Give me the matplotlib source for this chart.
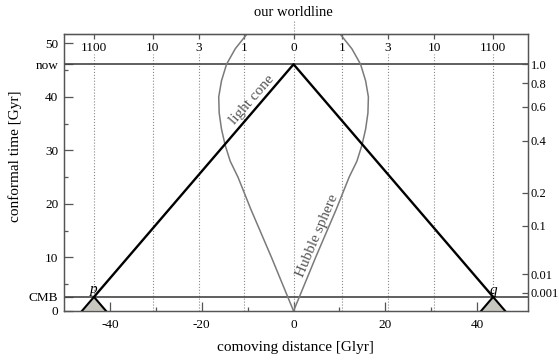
import numpy as np
import matplotlib.pyplot as plt

plt.rcParams['font.family'] = ['Liberation Serif', 'DejaVu Serif']
plt.rcParams['axes.unicode_minus'] = False

# conformal time of "now" and of the CMB [Gyr]
eta_now = 46.1
eta_cmb = 2.63

x_major = [-40, -20, 0, 20, 40]
x_minor = [-30, -10, 10, 30]
y_major = [0, 10, 20, 30, 40, 50]
y_minor = [5, 15, 25, 35, 45]

# redshift marks along the top
z_labels = ['1100', '10', '3', '1', '0', '1', '3', '10', '1100']
z_dist = [-43.4, -30.7, -20.6, -10.7, 0, 10.6, 20.5, 30.6, 43.4]

# scale factor on the right axis
a_labels = ['1.0', '0.8', '0.6', '0.4', '0.2', '0.1', '0.01', '0.001']
a_eta = [46.1, 42.6, 38.2, 31.8, 22.1, 15.9, 6.9, 3.4]

# Hubble sphere (right branch, mirrored for left)
hub_eta = [0, 2.5, 5, 7.5, 10, 13, 16, 19, 22, 25, 28, 31, 34, 37, 40, 43, 46.1, 49, 51.7]
hub_x = [0, 1.2, 2.4, 3.6, 4.8, 6.3, 7.8, 9.3, 10.7, 12.1, 13.8, 14.9, 15.7, 16.2, 16.3, 15.7, 14.6, 12.7, 10.2]

spine_c = '#555555'

fig = plt.figure(figsize=(5.59, 3.62), dpi=100)
ax = fig.add_axes([0.1145, 0.1409, 0.8295, 0.7643])
ax.set_xlim(-50, 51)
ax.set_ylim(0, 51.7)

for s in ax.spines.values():
    s.set_color(spine_c)
    s.set_linewidth(0.9)

# dotted redshift lines
ax.vlines(z_dist, 0, 48.0, colors='#8a8a8a', linestyles=':', lw=0.8)
ax.plot([0, 0], [51.7, 54.3], color='#8a8a8a', ls=':', lw=0.8, clip_on=False)
for z, lab in zip(z_dist, z_labels):
    ax.text(z, 49.2, lab, ha='center', va='center', fontsize=9.5)
ax.text(0, 55.8, 'our worldline', ha='center', va='center', fontsize=10.5)

# now / CMB
ax.axhline(eta_now, color='#444444', lw=1.2)
ax.axhline(eta_cmb, color='#444444', lw=1.2)

# Hubble sphere
hx = np.array(hub_x)
ax.plot(hx, hub_eta, color='#7a7a7a', lw=1.1)
ax.plot(-hx, hub_eta, color='#7a7a7a', lw=1.1)

# past light cone
xc = eta_now - eta_cmb
ax.plot([-xc, 0, xc], [eta_cmb, eta_now, eta_cmb], color='k', lw=1.7, zorder=4)
for sgn in (-1, 1):
    px = sgn * xc
    ax.fill([px - eta_cmb, px, px + eta_cmb], [0, eta_cmb, 0], facecolor='#c8c8c0', edgecolor='none', zorder=3)
    ax.plot([px - eta_cmb, px, px + eta_cmb], [0, eta_cmb, 0], color='k', lw=1.5, zorder=4)

ax.text(-43.6, 4.1, 'p', style='italic', fontsize=11, ha='center', va='center')
ax.text(43.5, 3.8, 'q', style='italic', fontsize=11, ha='center', va='center')

ax.text(-9.1, 39.4, 'light cone', rotation=49, color='#555555', fontsize=11,
        ha='center', va='center')
ax.text(5.2, 14.0, 'Hubble sphere', rotation=67, color='#555555', fontsize=11,
        ha='center', va='center')

# bottom axis
ax.set_xticks(x_major)
ax.set_xticks(x_minor, minor=True)
ax.tick_params(axis='x', which='major', direction='in', length=6.5, width=0.9,
               color=spine_c, labelsize=9.5, pad=6)
ax.tick_params(axis='x', which='minor', direction='in', length=3, width=0.9, color=spine_c)

# left axis
ax.set_yticks(y_major + [eta_cmb, eta_now],
              [str(v) for v in y_major] + ['CMB', 'now'])
ax.set_yticks(y_minor, minor=True)
ax.tick_params(axis='y', which='major', direction='in', length=6.5, width=0.9,
               color=spine_c, labelsize=9.5, pad=4)
ax.tick_params(axis='y', which='minor', direction='in', length=3, width=0.9, color=spine_c)

# right axis: scale factor
ax2 = ax.twinx()
ax2.set_ylim(0, 51.7)
ax2.set_yticks(a_eta, a_labels)
ax2.tick_params(axis='y', direction='in', length=4, width=0.9, color=spine_c,
                labelsize=9, pad=2)
for s in ax2.spines.values():
    s.set_color(spine_c)
    s.set_linewidth(0.9)

# top axis: redshift ticks
sec = ax.secondary_xaxis('top')
sec.set_xticks(z_dist)
sec.tick_params(direction='in', length=3.5, width=0.9, color=spine_c, labeltop=False)
sec.spines['top'].set_color(spine_c)

ax.set_xlabel('comoving distance [Glyr]', fontsize=11, labelpad=7)
ax.set_ylabel('conformal time [Gyr]', fontsize=11)
ax.yaxis.set_label_coords(-0.09, 0.56)

fig.savefig('out.png', dpi=100)
